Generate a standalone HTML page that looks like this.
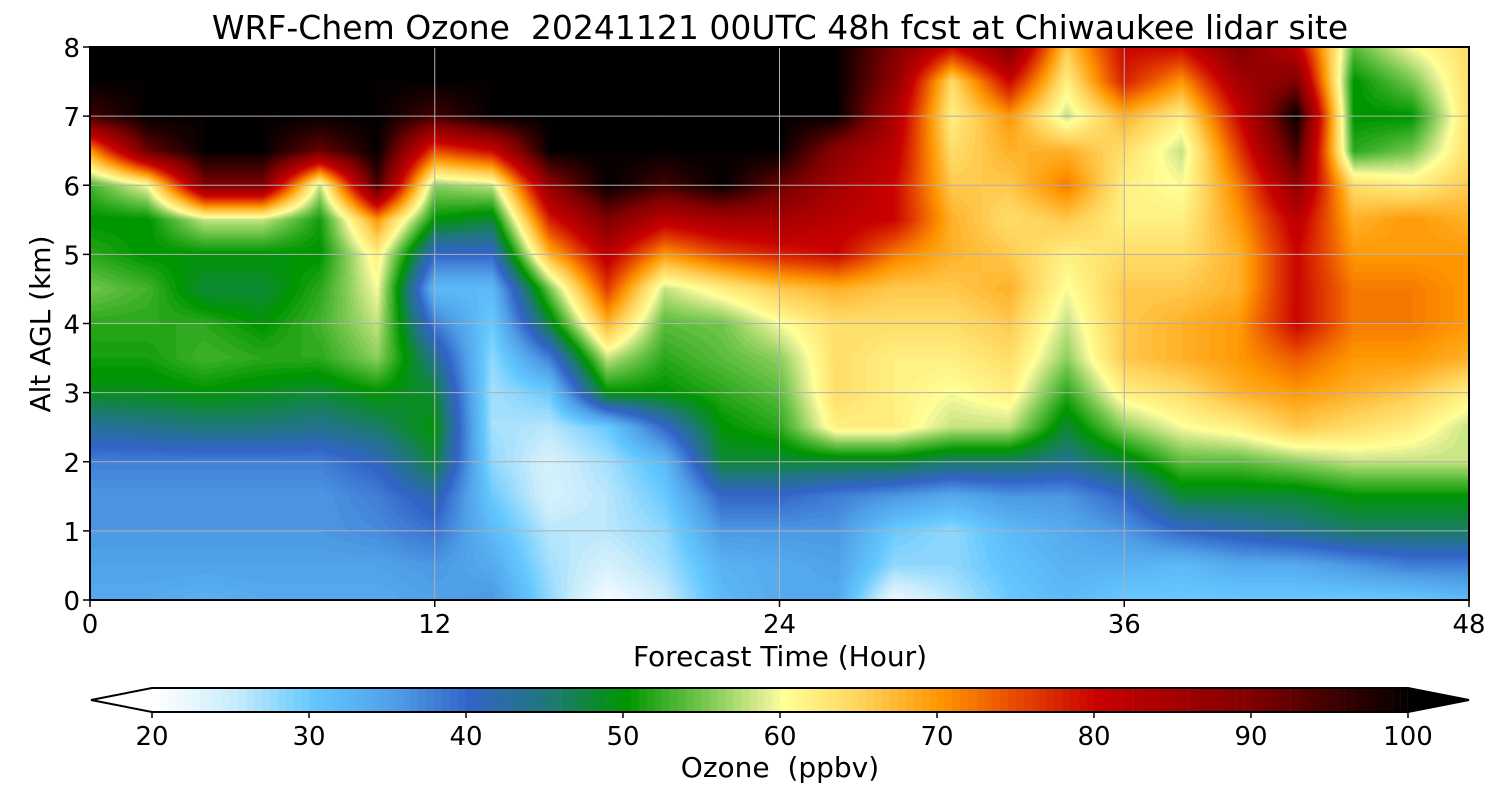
<!DOCTYPE html>
<html><head><meta charset="utf-8"><style>
body{margin:0;background:#fff;width:1500px;height:800px;overflow:hidden;font-family:"DejaVu Sans","Liberation Sans",sans-serif}
#wrap{position:relative;width:1500px;height:800px}
canvas{position:absolute;left:0;top:0}
svg{position:absolute;left:0;top:0}
text{white-space:pre}
</style></head><body>
<div id="wrap">
<canvas id="cv" width="1500" height="800"></canvas>
<svg id="sv" width="1500" height="800" font-family="DejaVu Sans, Liberation Sans, sans-serif"></svg>
</div>
<script>
const times=[0,2,4,6,8,10,12,14,16,18,20,22,24,26,28,30,32,34,36,38,40,42,44,46,48];
const alts=[0,0.5,1,1.5,2,2.5,3,3.5,4,4.5,5,5.5,6,6.5,7,7.5,8];
const ozone=[
[34,35,36,36,38,43,49,51,52,55,52,50,53,70,95,100,100],
[34,35,36,36,38,44,49,51,52,53,50,50,60,92,100,100,100],
[33,35,36,36,38,45,50,53,52,48,50,58,90,100,100,100,100],
[34,35,36,36,38,45,49,52,50,48,50,58,90,100,100,100,100],
[34,35,36,36,38,44,48,52,53,52,50,51,58,92,100,100,100],
[34,35,37,38,41,46,50,56,58,60,62,70,95,100,100,100,100],
[35,36,39,42,48,50,48,44,38,32,40,50,56,75,95,100,100],
[36,34,32,30,28,27,27,28,30,32,40,48,58,80,100,100,100],
[28,27,26,24,24,26,30,38,48,55,68,78,88,100,100,100,100],
[21,24,26,26,27,30,50,58,68,76,82,90,100,100,100,100,100],
[25,27,28,30,32,40,50,52,54,58,70,82,95,100,100,100,100],
[32,33,36,40,48,50,52,54,55,62,75,85,100,100,100,100,100],
[34,34,36,40,48,52,54,56,60,66,78,85,92,100,100,100,100],
[34,35,36,38,48,62,64,64,64,68,80,82,85,88,100,100,100],
[22,28,30,36,48,62,62,62,64,66,72,80,80,82,84,88,90],
[26,28,28,34,46,58,60,62,64,66,68,68,66,64,62,64,80],
[30,31,32,36,46,58,62,64,66,68,66,64,66,68,70,80,90],
[32,33,34,36,44,48,52,56,58,60,62,66,72,68,58,62,66],
[30,33,36,40,48,56,62,66,66,66,64,62,62,64,68,78,80],
[30,32,40,48,54,60,64,68,68,66,64,62,60,58,62,70,80],
[30,34,42,48,54,62,68,70,70,68,68,70,72,76,80,85,90],
[30,34,44,48,56,66,70,74,80,80,80,82,88,95,100,90,82],
[30,36,46,50,58,64,68,70,72,72,70,68,64,52,50,50,54],
[30,38,46,50,58,62,66,70,72,72,70,70,62,55,50,55,60],
[32,38,46,50,58,58,62,68,70,70,70,68,66,64,64,64,64]
];
const cbTicks=[20,30,40,50,60,70,80,90,100];
const xTicks=[0,12,24,36,48];
const yTicks=[0,1,2,3,4,5,6,7,8];

const X0=90,X1=1469,Y0=600,Y1=47;
const xs=t=>X0+(t-0)/48*(X1-X0);
const ys=a=>Y0-(a/8)*(Y0-Y1);
const CB0=152,CB1=1408,cbx=v=>CB0+(v-20)/80*(CB1-CB0);
const anchors=[[20,[255,255,255]],[25,[200,236,252]],[30,[100,200,255]],[35,[80,160,232]],[40,[50,100,200]],[45,[30,120,120]],[50,[0,150,0]],[55,[120,200,80]],[59,[230,240,150]],[60,[255,255,150]],[65,[255,210,90]],[70,[255,150,0]],[75,[230,70,0]],[80,[200,0,0]],[90,[125,0,0]],[100,[0,0,0]]];
function cmap(v){v=Math.max(20,Math.min(100,Math.floor(v*2)/2));
 for(let i=0;i<anchors.length-1;i++){const[a,ca]=anchors[i],[b,cb]=anchors[i+1];
  if(v<=b){const f=(v-a)/(b-a);return ca.map((c,k)=>Math.round(c+(cb[k]-c)*f));}}
 return [0,0,0];}
const cv=document.getElementById('cv'),ctx=cv.getContext('2d');
const W=X1-X0,H=Y0-Y1,img=ctx.createImageData(W,H);
for(let py=0;py<H;py++){const a=(H-py-0.5)/H*8;let j=Math.min(alts.length-2,Math.floor(a/0.5));const fy=(a-alts[j])/0.5;
 for(let px=0;px<W;px++){const t=(px+0.5)/W*48;let i=Math.min(times.length-2,Math.floor(t/2));const fx=(t-times[i])/2;
  const v=ozone[i][j]*(1-fx)*(1-fy)+ozone[i+1][j]*fx*(1-fy)+ozone[i][j+1]*(1-fx)*fy+ozone[i+1][j+1]*fx*fy;
  const c=cmap(v),k=(py*W+px)*4;img.data[k]=c[0];img.data[k+1]=c[1];img.data[k+2]=c[2];img.data[k+3]=255;}}
ctx.putImageData(img,X0,Y1);
for(let v=20;v<100;v+=0.5){const c=cmap(v);ctx.fillStyle=`rgb(${c})`;ctx.fillRect(cbx(v),688,cbx(v+0.5)-cbx(v)+0.6,24);}
const NS='http://www.w3.org/2000/svg',sv=document.getElementById('sv');
function el(tag,at,txt){const e=document.createElementNS(NS,tag);for(const k in at)e.setAttribute(k,at[k]);if(txt!=null)e.textContent=txt;sv.appendChild(e);return e;}
xTicks.forEach(t=>{const g=el('line',{x1:xs(t),x2:xs(t),y1:Y1,y2:Y0,stroke:'#b0b0b0','stroke-width':1});
 
 const tk=el('line',{x1:xs(t),x2:xs(t),y1:Y0,y2:Y0+7,stroke:'#000','stroke-width':1.5});
 
 const l=el('text',{x:xs(t),y:633,'font-size':26,'text-anchor':'middle'},t);
 });
yTicks.forEach(a=>{const g=el('line',{x1:X0,x2:X1,y1:ys(a),y2:ys(a),stroke:'#b0b0b0','stroke-width':1});
 
 const tk=el('line',{x1:X0-7,x2:X0,y1:ys(a),y2:ys(a),stroke:'#000','stroke-width':1.5});
 
 const l=el('text',{x:X0-10,y:ys(a)+10,'font-size':26,'text-anchor':'end'},a);
 });
const fr=el('rect',{x:X0,y:Y1,width:X1-X0,height:Y0-Y1,fill:'none',stroke:'#000','stroke-width':2});

const ti=el('text',{x:780,y:39,'font-size':33,'text-anchor':'middle'},'WRF-Chem Ozone  20241121 00UTC 48h fcst at Chiwaukee lidar site');

const xl=el('text',{x:780,y:666,'font-size':28,'text-anchor':'middle'},'Forecast Time (Hour)');

const yl=el('text',{x:0,y:0,'font-size':28,'text-anchor':'middle',transform:'translate(50,324) rotate(-90)'},'Alt AGL (km)');

const lt=el('polygon',{points:`${CB0},688 ${CB0},712 91,700`,fill:'#fff',stroke:'none'});

const rt=el('polygon',{points:`${CB1},688 ${CB1},712 1469,700`,fill:'#000'});

const cbo=el('polygon',{points:`91,700 ${CB0},688 ${CB1},688 1469,700 ${CB1},712 ${CB0},712`,fill:'none',stroke:'#000','stroke-width':2});

cbTicks.forEach(v=>{const tk=el('line',{x1:cbx(v),x2:cbx(v),y1:712,y2:718,stroke:'#000','stroke-width':1.5});
 
 const l=el('text',{x:cbx(v),y:745,'font-size':26,'text-anchor':'middle'},v);
 });
const cl=el('text',{x:780,y:777,'font-size':28,'text-anchor':'middle'},'Ozone  (ppbv)');

</script>
</body></html>
